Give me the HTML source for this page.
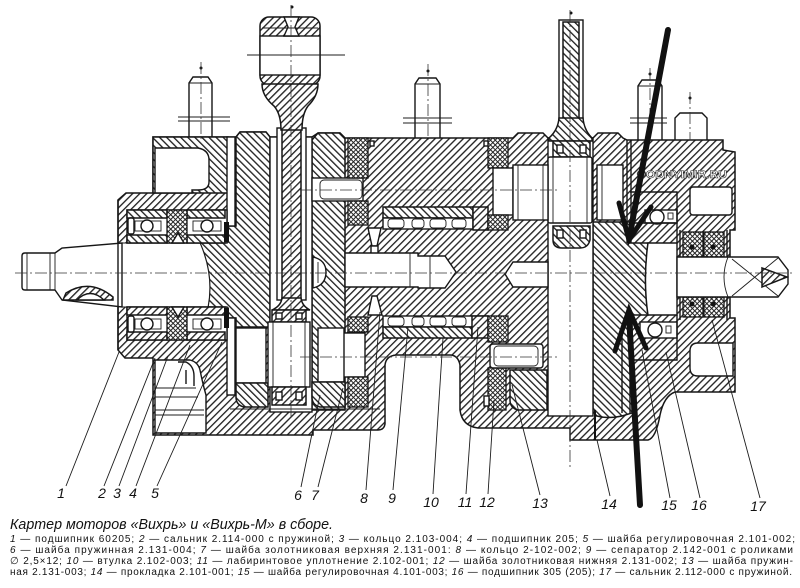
<!DOCTYPE html>
<html><head><meta charset="utf-8">
<style>html,body{margin:0;padding:0;background:#fff;}svg{display:block}</style>
</head><body>
<svg width="800" height="588" viewBox="0 0 800 588" xmlns="http://www.w3.org/2000/svg">
<defs>
<pattern id="a" width="5" height="5" patternUnits="userSpaceOnUse" patternTransform="rotate(45)"><rect width="5" height="5" fill="#fff"/><rect x="0" y="0" width="1.35" height="5" fill="#222"/></pattern>
<pattern id="b" width="5" height="5" patternUnits="userSpaceOnUse" patternTransform="rotate(-45)"><rect width="5" height="5" fill="#fff"/><rect x="0" y="0" width="1.35" height="5" fill="#222"/></pattern>
<pattern id="x" width="3.4" height="3.4" patternUnits="userSpaceOnUse" patternTransform="rotate(45)"><rect width="3.4" height="3.4" fill="#fff"/><rect width="1" height="3.4" fill="#222"/><rect width="3.4" height="1" fill="#222"/></pattern>
</defs>
<style>
.h{fill:url(#a);stroke:#161616;stroke-width:1.5}
.k{fill:url(#b);stroke:#161616;stroke-width:1.5}
.w{fill:#fff;stroke:#161616;stroke-width:1.4}
.x{fill:url(#x);stroke:#161616;stroke-width:1.3}
.l{fill:none;stroke:#161616;stroke-width:1.4}
.t{fill:none;stroke:#1c1c1c;stroke-width:0.9}
.c{fill:none;stroke:#333;stroke-width:0.8;stroke-dasharray:12 3 2 3}
.n{font-family:"Liberation Sans",sans-serif;font-style:italic;font-size:14px;fill:#111;text-anchor:middle}
.d{fill:#111}
</style>
<rect width="800" height="588" fill="#fff"/>

<!-- studs -->
<path class="w" d="M189,137 L189,83 L193,77 L208,77 L212,83 L212,137"/>
<path class="t" d="M189,83 L212,83 M178,117 L230,117 M178,121 L230,121"/>
<circle class="d" cx="201" cy="68" r="1.5"/>
<path class="w" d="M415,138 L415,84 L419,78 L436,78 L440,84 L440,138"/>
<path class="t" d="M415,84 L440,84 M403,118 L452,118 M403,123 L452,123"/>
<circle class="d" cx="428" cy="71" r="1.5"/>
<path class="w" d="M638,140 L638,86 L642,80 L658,80 L662,86 L662,140"/>
<path class="t" d="M638,86 L662,86 M630,118 L667,118 M630,123 L667,123"/>
<circle class="d" cx="650" cy="74" r="1.5"/>
<path class="w" d="M675,140 L675,118 L680,113 L702,113 L707,118 L707,140"/>
<circle class="d" cx="690" cy="98" r="1.5"/>

<!-- main silhouette -->
<path class="h" d="M118,200 L126,193 L153,193 L153,137 L236,137 L240,132 L266,132 L270,137 L312,137 L318,133 L340,133 L345,138 L513,138 L518,133 L543,133 L548,138 L593,138 L598,133 L618,133 L623,138 L627,140 L723,140 L723,150 L735,152 L735,230 L730,230 L730,318 L735,318 L735,392 L675,392 Q664,396 660,415 Q656,438 648,440 L570,440 L570,428 L478,428 Q462,426 460,410 L460,365 Q458,355 450,355 L396,355 Q386,356 385,365 L385,424 Q384,430 378,430 L313,430 L313,435 L153,435 L153,358 L125,358 L118,350 Z"/>

<!-- left top block -->
<rect class="k" x="153" y="137" width="75" height="56"/>
<path class="w" d="M155,148 L198,148 Q209,150 209,160 L209,182 Q209,190 198,190 L192,190 L192,193 L155,193 Z"/>
<!-- left web -->
<path class="k" d="M236,137 L240,132 L266,132 L270,137 L270,327 L236,327 L236,318 L228,318 L228,308 L208,307 Q214,275 200,243 L228,242 L228,226 L236,226 Z"/>
<rect class="w" x="227" y="137" width="8" height="89"/>
<rect class="w" x="227" y="318" width="8" height="77"/>
<!-- web2 -->
<path class="k" d="M312,140 L318,133 L340,133 L345,138 L345,410 L312,410 Z"/>
<!-- right web -->
<path class="k" d="M593,222 L630,222 L630,243 L648,243 Q643,280 648,315 L632,315 L632,413 L622,416 Q608,419 597,416 L593,412 Z"/>

<!-- white overlays -->
<path d="M118,243 L200,243 Q214,275 208,307 L118,307 Z" fill="#fff"/>
<rect class="w" x="270" y="137" width="42" height="275"/>
<rect class="w" x="548" y="138" width="45" height="278"/>
<path class="w" d="M155,360 L190,360 Q198,362 200,370 Q203,385 206,395 L206,433 L155,433 Z"/>
<path class="w" d="M648,243 L677,243 L677,315 L648,315 Q643,280 648,243 Z"/>

<!-- left shaft -->
<path class="w" d="M22,256 Q22,253 25,253 L55,253 L62,248 L122,243 L122,307 L62,300 L55,290 L25,290 Q22,290 22,287 Z"/>
<path class="t" d="M27,253 L27,290 M50,253 L50,290 M55,253 L55,290 M122,243 L200,243 Q214,275 208,307 L122,307"/>
<path class="h" d="M63,300 L66,293 Q90,278 113,297 L113,300 Z"/>
<path class="w" d="M77,300 Q90,287 104,300 Z"/>
<path class="l" d="M118,200 L118,350"/>

<!-- left bearings (top + mirrored) -->
<g id="brg">
<rect class="w" x="127" y="210" width="100" height="33"/>
<rect class="k" x="127" y="210" width="40" height="8"/>
<rect class="k" x="187" y="210" width="38" height="8"/>
<rect class="k" x="127" y="235" width="40" height="8"/>
<rect class="k" x="187" y="235" width="38" height="8"/>
<rect class="x" x="167" y="210" width="20" height="33"/>
<path class="w" d="M172,243 L178,233 L184,243 Z"/>
<rect class="t" x="135" y="221" width="26" height="10"/>
<circle class="w" cx="147" cy="226" r="6"/>
<rect class="t" x="193" y="221" width="28" height="10"/>
<circle class="w" cx="207" cy="226" r="6"/>
<rect class="w" x="128" y="218" width="6" height="16" rx="2"/>
<rect class="d" x="224" y="222" width="5" height="20"/>
</g>
<use href="#brg" transform="matrix(1,0,0,-1,0,550)"/>

<!-- foot details -->
<path class="t" d="M155,388 L196,388 M155,397 L198,397 M155,410 L204,410 M155,415 L204,415"/>
<path class="l" d="M178,362 L186,362 Q194,366 194,376 L194,386 M186,370 L186,384"/>

<!-- lower left rollers -->
<rect class="w" x="236" y="328" width="30" height="55"/>
<path class="k" d="M236,383 L268,383 L268,407 L244,407 Q236,405 236,397 Z"/>
<path class="t" d="M230,409 L380,409"/>

<!-- rod 1 -->
<rect class="h" x="260" y="17" width="60" height="68" rx="9"/>
<rect class="w" x="260" y="36" width="60" height="39"/>
<path class="w" d="M284,17 L299,17 L295,27 L299,36 L284,36 L288,27 Z"/>
<path class="t" d="M262,28 L318,28"/>
<rect class="w" x="277" y="128" width="29" height="172"/>
<rect class="h" x="282" y="128" width="19" height="172"/>
<path class="h" d="M262,84 L318,84 Q318,96 308,106 Q302,114 302,130 L281,130 Q281,114 274,106 Q262,96 262,84 Z"/>
<path class="h" d="M282,298 L301,298 Q302,306 310,310 L272,310 Q281,306 282,298 Z"/>
<rect class="h" x="272" y="310" width="34" height="12"/>
<rect class="w" x="276" y="313" width="6" height="6"/><rect class="w" x="296" y="313" width="6" height="6"/>
<rect class="w" x="268" y="322" width="42" height="65"/>
<path class="t" d="M273,322 L273,387 M305,322 L305,387"/>
<rect class="h" x="272" y="387" width="34" height="18"/>
<rect class="w" x="276" y="392" width="6" height="8"/><rect class="w" x="296" y="392" width="6" height="8"/>
<path class="t" d="M247,55 L345,55"/>
<circle class="d" cx="292" cy="7" r="1.5"/>

<!-- rod 2 -->
<rect class="w" x="559" y="20" width="24" height="102"/>
<rect class="k" x="563" y="22" width="16" height="100"/>
<path class="k" d="M559,118 Q558,130 549,138 L549,141 L592,141 L592,138 Q584,130 583,118 Z"/>
<rect class="k" x="553" y="141" width="37" height="16"/>
<rect class="w" x="557" y="145" width="6" height="8"/><rect class="w" x="580" y="145" width="6" height="8"/>
<rect class="w" x="548" y="157" width="44" height="66" rx="2"/>
<path class="t" d="M553,157 L553,223 M587,157 L587,223"/>
<path class="k" d="M553,226 L590,226 L590,240 Q588,248 580,248 L562,248 Q553,248 553,240 Z"/>
<rect class="w" x="557" y="230" width="6" height="8"/><rect class="w" x="580" y="230" width="6" height="8"/>
<circle class="d" cx="571" cy="13" r="1.5"/>

<!-- middle upper -->
<rect class="w" x="312" y="178" width="51" height="23"/>
<rect class="t" x="320" y="180" width="42" height="19" rx="4"/>
<rect class="x" x="348" y="138" width="20" height="40"/>
<rect class="x" x="348" y="201" width="20" height="24"/>
<rect class="w" x="370" y="141" width="4" height="5"/>
<rect class="k" x="383" y="207" width="90" height="11"/>
<rect class="w" x="383" y="218" width="90" height="11"/>
<rect class="t" x="388" y="219" width="16" height="9" rx="3"/><rect class="t" x="412" y="219" width="12" height="9" rx="3"/>
<rect class="t" x="430" y="219" width="16" height="9" rx="3"/><rect class="t" x="452" y="219" width="14" height="9" rx="3"/>
<rect class="h" x="473" y="207" width="15" height="23"/>
<path class="w" d="M368,228 L381,228 L377,246 L372,246 Z"/>
<rect class="w" x="371" y="246" width="7" height="8"/>
<rect class="x" x="488" y="138" width="20" height="30"/>
<rect class="w" x="493" y="168" width="20" height="47"/>
<rect class="x" x="488" y="215" width="20" height="15"/>
<rect class="w" x="484" y="141" width="4" height="5"/>
<rect class="w" x="513" y="165" width="35" height="55"/>
<path class="t" d="M518,165 L518,220 M543,165 L543,220"/>
<rect class="w" x="597" y="165" width="26" height="55"/>
<path class="t" d="M602,165 L602,220"/>
<path class="w" d="M345,253 L418,253 L418,256 L445,256 L456,272 L445,288 L418,288 L418,287 L345,287 Z"/>
<path class="t" d="M410,253 L410,287 M430,256 L430,288"/>
<path class="w" d="M313,257 Q326,260 326,272 Q326,285 313,288 Z"/>
<path class="t" d="M318,262 L318,283"/>
<path class="w" d="M513,262 L548,262 L548,287 L513,287 L505,274 Z"/>

<!-- middle lower -->
<rect class="w" x="383" y="316" width="105" height="11"/>
<rect class="t" x="388" y="317" width="16" height="9" rx="3"/><rect class="t" x="412" y="317" width="12" height="9" rx="3"/>
<rect class="t" x="430" y="317" width="16" height="9" rx="3"/><rect class="t" x="452" y="317" width="14" height="9" rx="3"/>
<rect class="k" x="383" y="327" width="89" height="11"/>
<rect class="h" x="472" y="316" width="16" height="22"/>
<path class="w" d="M372,296 L377,296 L382,315 L368,315 Z"/>
<rect class="x" x="348" y="317" width="20" height="15"/>
<rect class="w" x="343" y="333" width="22" height="44"/>
<rect class="x" x="348" y="377" width="20" height="30"/>
<rect class="w" x="318" y="328" width="26" height="54"/>
<path class="k" d="M312,382 L345,382 L345,407 L320,407 Q312,405 312,397 Z"/>
<rect class="x" x="488" y="316" width="20" height="26"/>
<rect class="x" x="488" y="368" width="18" height="42"/>
<rect class="w" x="490" y="344" width="53" height="24" rx="3"/>
<rect class="t" x="494" y="346" width="44" height="20" rx="4"/>
<path class="k" d="M510,370 L547,370 L547,410 L518,410 Q510,408 510,400 Z"/>
<rect class="w" x="484" y="396" width="5" height="10"/>

<!-- right side -->
<rect class="w" x="690" y="187" width="42" height="28" rx="3"/>
<rect class="w" x="645" y="210" width="32" height="13"/>
<circle class="w" cx="657" cy="217" r="7"/>
<rect class="t" x="668" y="213" width="5" height="6"/>
<path class="l" d="M627,140 L627,243 M631,140 L631,243 M630,192 L677,192 L677,243 M630,223 L677,223"/>
<rect class="x" x="683" y="232" width="20" height="25"/>
<rect class="x" x="704" y="232" width="20" height="25"/>
<circle class="d" cx="692" cy="247" r="2.5"/><circle class="d" cx="713" cy="247" r="2.5"/>
<rect class="x" x="683" y="297" width="20" height="20"/>
<rect class="x" x="704" y="297" width="20" height="20"/>
<circle class="d" cx="692" cy="304" r="2.5"/><circle class="d" cx="713" cy="304" r="2.5"/>
<path class="l" d="M680,230 L680,320 M727,230 L727,320"/>
<path class="w" d="M677,257 L778,257 L788,270 L788,284 L778,297 L677,297 Z"/>
<path class="t" d="M728,257 Q720,277 728,297 M732,259 L778,296 M732,296 L778,258"/>
<path class="h" d="M762,268 L787,277 L762,287 Z"/>
<rect class="w" x="640" y="322" width="37" height="16"/>
<circle class="w" cx="655" cy="330" r="7"/>
<rect class="t" x="666" y="326" width="5" height="7"/>
<path class="l" d="M632,315 L632,360 L677,360 L677,315"/>
<path class="w" d="M698,343 L733,343 L733,376 L698,376 Q690,376 690,368 L690,351 Q690,343 698,343 Z"/>
<path class="l" d="M622,330 L622,413 M630,315 L630,413"/>
<path d="M595,410 L595,440" stroke="#111" stroke-width="2"/>

<!-- watermark -->
<text x="637" y="178" font-family="Liberation Sans,sans-serif" font-weight="bold" font-size="11" textLength="90" lengthAdjust="spacingAndGlyphs" fill="#fff" stroke="#333" stroke-width="0.6">©ODNYIMIR.RU</text>

<!-- centerlines -->
<path class="c" d="M15,273 L795,273 M291,5 L291,420 M570,10 L570,470 M300,190 L560,190 M300,357 L560,357 M201,62 L201,140 M428,64 L428,140 M650,68 L650,140 M690,92 L690,140"/>

<!-- leaders -->
<path class="t" d="M66,486 L119,352 M104,486 L155,358 M119,486 L168,356 M136,486 L190,345 M157,486 L222,342 M301,487 L320,395 M318,487 L343,388 M366,490 L380,312 M393,490 L408,327 M433,494 L443,338 M466,494 L478,327 M488,494 L494,400 M540,495 L512,385 M610,496 L597,440 M670,498 L642,350 M700,498 L666,352 M760,498 L712,320"/>

<!-- labels -->
<text class="n" x="61" y="498">1</text>
<text class="n" x="102" y="498">2</text>
<text class="n" x="117" y="498">3</text>
<text class="n" x="133" y="498">4</text>
<text class="n" x="155" y="498">5</text>
<text class="n" x="298" y="500">6</text>
<text class="n" x="315" y="500">7</text>
<text class="n" x="364" y="503">8</text>
<text class="n" x="392" y="503">9</text>
<text class="n" x="431" y="507">10</text>
<text class="n" x="465" y="507">11</text>
<text class="n" x="487" y="507">12</text>
<text class="n" x="540" y="508">13</text>
<text class="n" x="609" y="509">14</text>
<text class="n" x="669" y="510">15</text>
<text class="n" x="699" y="510">16</text>
<text class="n" x="758" y="511">17</text>

<!-- arrows -->
<g stroke="#111" fill="none" stroke-linecap="round">
<path d="M668,30 L630,234" stroke-width="6"/>
<path d="M619,203 L629,240 L651,207" stroke-width="5" stroke-linejoin="miter"/>
<path d="M640,505 L629,316" stroke-width="6"/>
<path d="M615,351 L629,310 L646,348" stroke-width="5" stroke-linejoin="miter"/>
</g>

<!-- caption -->
<text x="10" y="529" font-family="Liberation Sans,sans-serif" font-style="italic" font-size="14.5" textLength="323" lengthAdjust="spacingAndGlyphs" fill="#111">Картер моторов «Вихрь» и «Вихрь-М» в сборе.</text>
<g font-family="Liberation Sans,sans-serif" font-size="10" fill="#111">
<text x="10" y="542" textLength="785" lengthAdjust="spacing"><tspan font-style="italic">1</tspan> — подшипник 60205; <tspan font-style="italic">2</tspan> — сальник 2.114-000 с пружиной; <tspan font-style="italic">3</tspan> — кольцо 2.103-004; <tspan font-style="italic">4</tspan> — подшипник 205; <tspan font-style="italic">5</tspan> — шайба регулировочная 2.101-002;</text>
<text x="10" y="553" textLength="783" lengthAdjust="spacing"><tspan font-style="italic">6</tspan> — шайба пружинная 2.131-004; <tspan font-style="italic">7</tspan> — шайба золотниковая верхняя 2.131-001: <tspan font-style="italic">8</tspan> — кольцо 2-102-002; <tspan font-style="italic">9</tspan> — сепаратор 2.142-001 с роликами</text>
<text x="10" y="564" textLength="783" lengthAdjust="spacing">∅ 2,5×12; <tspan font-style="italic">10</tspan> — втулка 2.102-003; <tspan font-style="italic">11</tspan> — лабиринтовое уплотнение 2.102-001; <tspan font-style="italic">12</tspan> — шайба золотниковая нижняя 2.131-002; <tspan font-style="italic">13</tspan> — шайба пружин-</text>
<text x="10" y="575" textLength="782" lengthAdjust="spacing">ная 2.131-003; <tspan font-style="italic">14</tspan> — прокладка 2.101-001; <tspan font-style="italic">15</tspan> — шайба регулировочная 4.101-003; <tspan font-style="italic">16</tspan> — подшипник 305 (205); <tspan font-style="italic">17</tspan> — сальник 2.112-000 с пружиной.</text>
</g>
</svg>
</body></html>
